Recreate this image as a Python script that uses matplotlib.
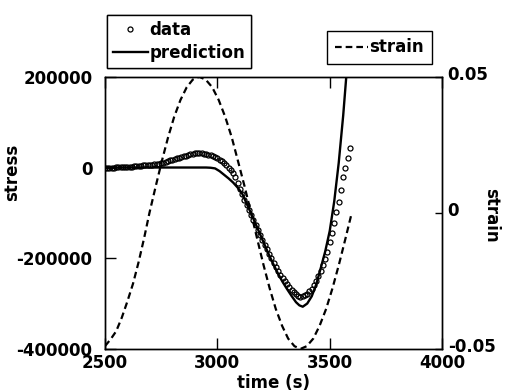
import numpy as np
import matplotlib
matplotlib.use("Agg")
import matplotlib.pyplot as plt
from matplotlib.ticker import FuncFormatter
from matplotlib.transforms import ScaledTranslation

# ---- data ----
# measured stress, one sample every 10 s from 2500 s
data_t0, data_dt = 2500, 10
stress_data = [
    0, 0, 0, 0, 0, 500, 500, 1000, 1000, 1000,
    1500, 1500, 2000, 2500, 3000, 3500, 4000, 4500, 5000, 5500,
    6000, 6500, 7000, 7500, 8500, 9500, 11000, 12500, 14000, 15500,
    17000, 18500, 20000, 21500, 23000, 24500, 26000, 27500, 29000, 30500,
    31500, 32000, 32000, 31500, 30500, 29500, 28000, 26500, 25000, 23000,
    20500, 17500, 14000, 10000, 5000, -500, -6500, -13000, -22000, -34000,
    -47000, -59000, -71000, -82000, -93000, -104000, -115000, -126000, -137000, -148000,
    -159000, -170000, -180000, -190000, -200000, -210000, -219000, -228000, -236000, -244000,
    -251000, -258000, -264000, -270000, -275000, -279000, -283000, -285000, -284000, -282000,
    -278000, -273000, -267000, -259000, -250000, -240000, -229000, -216000, -202000, -186000,
    -165000, -145000, -122000, -98000, -75000, -50000, -22000, 0, 22000, 43000,
]
time_data = data_t0 + data_dt * np.arange(len(stress_data))

# model prediction
time_pred = [2500, 2600, 2700, 2800, 2900, 2950, 2970, 2990, 3010, 3030,
             3050, 3070, 3090, 3110, 3130, 3150, 3170, 3190, 3210, 3230,
             3250, 3270, 3290, 3310, 3330, 3350, 3365, 3380, 3400, 3420,
             3440, 3460, 3480, 3500, 3520, 3540, 3560, 3580, 3600]
stress_pred = [0, 0, 0, 0, 0, 0, -500, -2000, -8000, -16000,
               -24000, -33000, -44000, -57000, -79000, -101000, -124000, -147000, -170000, -193000,
               -214000, -234000, -252000, -268000, -283000, -297000, -304000, -307000, -300000, -284000,
               -258000, -222000, -185000, -140000, -75000, 10000, 115000, 240000, 370000]

# applied strain (right axis)
time_strain = [2500, 2525, 2550, 2575, 2600, 2625, 2650, 2675, 2698,
               2726, 2753, 2781, 2808, 2836, 2864, 2891, 2919,
               2948, 2977, 3006, 3035, 3064, 3092, 3121, 3150,
               3178, 3205, 3233, 3260, 3288, 3315, 3343, 3370,
               3398, 3427, 3455, 3484, 3512, 3541, 3569, 3598]
strain = [-0.049, -0.0465, -0.0435, -0.0385, -0.0325, -0.026, -0.018, -0.009, 0.0,
          0.0098, 0.019, 0.0278, 0.0353, 0.0415, 0.0462, 0.049, 0.05,
          0.049, 0.0462, 0.0415, 0.0353, 0.0278, 0.019, 0.0098, 0.0,
          -0.0098, -0.019, -0.0278, -0.0353, -0.0415, -0.0462, -0.049, -0.05,
          -0.049, -0.0462, -0.0415, -0.0353, -0.0278, -0.019, -0.0098, 0.0]

x_ticks = [2500, 3000, 3500, 4000]
stress_ticks = [-400000, -200000, 0, 200000]
strain_ticks = [-0.05, 0, 0.05]
strain_tick_labels = ["-0.05", "0", "0.05"]

# ---- plot ----
plt.rcParams["font.family"] = "DejaVu Sans"
plt.rcParams["font.weight"] = "bold"
plt.rcParams["axes.labelweight"] = "bold"
plt.rcParams["axes.unicode_minus"] = False

fig = plt.figure(figsize=(5.07, 3.92), dpi=100)
ax = fig.add_axes([0.207, 0.110, 0.665, 0.694])
ax2 = ax.twinx()

h_data, = ax.plot(time_data, stress_data, "o", ms=3.6, mfc="none", mec="black",
                  mew=0.9, label="data")
h_pred, = ax.plot(time_pred, stress_pred, "-", color="black", lw=1.7, label="prediction")
h_strain, = ax2.plot(time_strain, strain, color="black", lw=1.6, dashes=(3.0, 1.8),
                     label="strain")

ax.set_xlim(2500, 4000)
ax.set_ylim(-400000, 200000)
ax2.set_ylim(-0.05, 0.05)

ax.set_xticks(x_ticks)
ax.set_yticks(stress_ticks)
ax.yaxis.set_major_formatter(FuncFormatter(lambda v, p: f"{int(v)}"))
ax2.set_yticks(strain_ticks)
ax2.set_yticklabels(strain_tick_labels)

ax.tick_params(axis="both", direction="in", length=8, width=1, labelsize=12, top=True)
ax.tick_params(axis="y", pad=9)
ax.tick_params(axis="x", pad=4)
ax2.tick_params(axis="y", direction="in", length=5, width=1, labelsize=12, pad=4)

# right-hand labels sit a few pixels high in the original
shift_up = ScaledTranslation(0, 0.04, fig.dpi_scale_trans)
for lab in ax2.get_yticklabels():
    lab.set_transform(lab.get_transform() + shift_up)

for a in (ax, ax2):
    for s in a.spines.values():
        s.set_linewidth(1.0)

ax.set_xlabel("time (s)", fontsize=12)
ax.xaxis.set_label_coords(0.5, -0.092)
ax.set_ylabel("stress", fontsize=12)
ax.yaxis.set_label_coords(-0.25, 0.647)
ax2.set_ylabel("strain", fontsize=12, rotation=270, va="center")
ax2.yaxis.set_label_coords(1.145, 0.49)

prop = {"weight": "bold", "size": 12}
leg1 = ax.legend(handles=[h_data, h_pred], loc="upper left",
                 bbox_to_anchor=(0.211, 0.962), bbox_transform=fig.transFigure,
                 prop=prop, fancybox=False, edgecolor="black", framealpha=1,
                 handlelength=2.1, handletextpad=0.1, borderpad=0.35,
                 labelspacing=0.3, borderaxespad=0)
leg1.get_frame().set_linewidth(1.0)
ax.add_artist(leg1)
leg2 = ax2.legend(handles=[h_strain], loc="upper left",
                  bbox_to_anchor=(0.645, 0.921), bbox_transform=fig.transFigure,
                  prop=prop, fancybox=False, edgecolor="black", framealpha=1,
                  handlelength=2.0, handletextpad=0.1, borderpad=0.45, borderaxespad=0)
leg2.get_frame().set_linewidth(1.0)

fig.savefig("out.png", dpi=100)
